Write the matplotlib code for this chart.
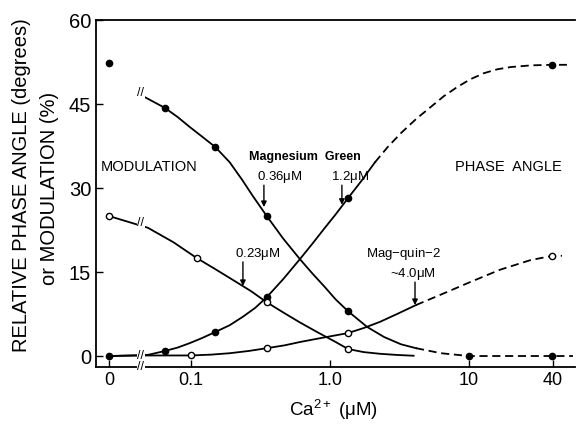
import numpy as np
import matplotlib
matplotlib.use('Agg')
import matplotlib.pyplot as plt

plt.rcParams['font.family'] = ['Liberation Sans', 'DejaVu Sans']
plt.rcParams['mathtext.fontset'] = 'custom'
plt.rcParams['mathtext.rm'] = 'Liberation Sans'
plt.rcParams['mathtext.it'] = 'Liberation Sans'

# measured points (Ca in uM)
mg_phase_ca = [0, 0.065, 0.15, 0.351, 1.35, 39.8]
mg_phase = [0, 0.9, 4.3, 10.5, 28.2, 52.0]
mq_phase_ca = [0.1, 0.351, 1.35, 39.8]
mq_phase = [0.1, 1.4, 4.1, 17.9]
mg_mod_ca = [0, 0.065, 0.15, 0.351, 1.35, 10, 39.8]
mg_mod = [52.4, 44.3, 37.3, 25.0, 8.0, 0, 0]
mq_mod_ca = [0, 0.11, 0.351, 1.35]
mq_mod = [25.0, 17.5, 9.6, 1.25]

# fitted curves
mg_phase_line_ca = [0, 0.049, 0.065, 0.08, 0.098, 0.12, 0.15, 0.19, 0.236, 0.29, 0.351,
                    0.46, 0.608, 0.75, 0.92, 1.1, 1.35, 1.7, 2.11]
mg_phase_line = [0, 0.2, 0.9, 1.5, 2.3, 3.2, 4.3, 5.5, 7.0, 8.6, 10.5,
                 13.7, 17.3, 20.1, 22.9, 25.3, 28.2, 31.4, 34.6]
mg_phase_dash_ca = [2.11, 2.6, 3.24, 4.2, 5.33, 6.6, 8.2, 10.2, 12.8, 16.0, 20.0, 28.0, 39.8, 50.7]
mg_phase_dash = [34.6, 37.3, 39.8, 42.4, 44.5, 46.4, 48.0, 49.4, 50.5, 51.2, 51.6, 51.9, 52.0, 52.0]

mq_phase_line_ca = [0, 0.049, 0.1, 0.14, 0.19, 0.26, 0.351, 0.47, 0.608, 0.9, 1.35, 1.75, 2.29, 3.1, 4.16]
mq_phase_line = [0, 0.1, 0.1, 0.25, 0.5, 0.9, 1.4, 1.9, 2.5, 3.3, 4.1, 5.0, 6.1, 7.6, 9.1]
mq_phase_dash_ca = [4.16, 6.19, 10.2, 16.7, 27.5, 39.8, 46.7]
mq_phase_dash = [9.1, 10.9, 13.2, 15.4, 17.1, 17.9, 17.9]

mg_mod_line_ca = [0.046, 0.065, 0.08, 0.098, 0.12, 0.15, 0.19, 0.233, 0.28, 0.351, 0.46, 0.608,
                  0.75, 0.92, 1.1, 1.35, 1.85, 2.45, 3.24, 4.16]
mg_mod_line = [46.3, 44.3, 42.7, 40.9, 39.2, 37.3, 34.6, 31.5, 28.5, 25.0, 21.0, 17.3,
               14.7, 12.3, 10.1, 8.0, 5.2, 3.4, 2.1, 1.4]
mq_mod_line_ca = [0, 0.049, 0.075, 0.11, 0.15, 0.2, 0.27, 0.351, 0.46, 0.608, 0.82, 1.1, 1.35,
                  1.75, 2.29, 3.0, 4.0]
mq_mod_line = [25.0, 22.9, 20.3, 17.5, 15.5, 13.6, 11.6, 9.6, 7.8, 6.0, 4.2, 2.5, 1.25,
               0.7, 0.4, 0.2, 0.05]
mod_dash_ca = [4.16, 6.3, 10, 39.8, 56]
mod_dash = [1.4, 0.5, 0, 0, 0]

tick_ca = [0, 0.1, 1, 10, 40]
tick_labels = ['0', '0.1', '1.0', '10', '40']

ZERO_POS = -1.59   # where Ca = 0 sits on the log axis
BREAK_POS = -1.36


def xpos(c):
    c = np.asarray(c, dtype=float)
    return np.where(c > 0, np.log10(np.where(c > 0, c, 1)), ZERO_POS)


fig = plt.figure(figsize=(5.76, 4.26), dpi=100)
ax = fig.add_axes([96 / 576, 1 - 367 / 426, 479 / 576, 347 / 426])

lw = 1.3
dash = (0, (4.5, 2.6))
ax.plot(xpos(mg_phase_line_ca), mg_phase_line, 'k-', lw=lw)
ax.plot(xpos(mg_phase_dash_ca), mg_phase_dash, 'k', ls=dash, lw=lw)
ax.plot(xpos(mq_phase_line_ca), mq_phase_line, 'k-', lw=lw)
ax.plot(xpos(mq_phase_dash_ca), mq_phase_dash, 'k', ls=dash, lw=lw)
ax.plot(xpos(mg_mod_line_ca), mg_mod_line, 'k-', lw=lw)
ax.plot(xpos(mq_mod_line_ca), mq_mod_line, 'k-', lw=lw)
ax.plot(xpos(mod_dash_ca), mod_dash, 'k', ls=dash, lw=lw)

ax.plot(xpos(mg_phase_ca), mg_phase, 'ko', ms=4.5, ls='none', zorder=4)
ax.plot(xpos(mg_mod_ca), mg_mod, 'ko', ms=4.5, ls='none', zorder=4)
ax.plot(xpos(mq_phase_ca), mq_phase, 'o', mfc='white', mec='k', mew=1, ms=4.5, ls='none', zorder=4)
ax.plot(xpos(mq_mod_ca), mq_mod, 'o', mfc='white', mec='k', mew=1, ms=4.5, ls='none', zorder=4)

# axis break marks
for yb in [0, 23.8, 47.0, -1.96]:
    ax.text(BREAK_POS, yb, '//', ha='center', va='center', fontsize=9,
            bbox=dict(fc='white', ec='none', pad=0.1), zorder=5, clip_on=False)

ax.set_xlim(-1.683, 1.763)
ax.set_ylim(-1.96, 60)
ax.set_xticks(xpos(tick_ca))
ax.set_xticklabels(tick_labels, fontsize=13)
ax.set_yticks([0, 15, 30, 45, 60])
ax.tick_params(axis='y', labelsize=14.5)
ax.tick_params(direction='in', length=5, width=1, top=False, right=False)
ax.spines['right'].set_visible(False)
for s in ['left', 'bottom', 'top']:
    ax.spines[s].set_linewidth(1.3)

ax.text(-1.30, 33.75, 'MODULATION', ha='center', va='center', fontsize=10.5)
ax.text(1.281, 33.75, 'PHASE  ANGLE', ha='center', va='center', fontsize=10.5)
ax.text(-0.183, 35.5, 'Magnesium  Green', ha='center', va='center', fontsize=9, fontweight='bold')
ax.text(-0.36, 32.0, '0.36$\\mu$M', ha='center', va='center', fontsize=9.5)
ax.text(0.144, 32.0, '1.2$\\mu$M', ha='center', va='center', fontsize=9.5)
ax.text(-0.518, 18.2, '0.23$\\mu$M', ha='center', va='center', fontsize=9.5)
ax.text(0.532, 18.2, 'Mag$-$quin$-$2', ha='center', va='center', fontsize=9.5)
ax.text(0.597, 14.6, '~4.0$\\mu$M', ha='center', va='center', fontsize=9.5)

arrow = dict(arrowstyle='-|>', color='k', lw=1, mutation_scale=8, shrinkA=0, shrinkB=0)
ax.annotate('', xy=(-0.475, 26.6), xytext=(-0.475, 30.5), arrowprops=arrow)
ax.annotate('', xy=(0.086, 27.0), xytext=(0.086, 30.5), arrowprops=arrow)
ax.annotate('', xy=(-0.626, 12.5), xytext=(-0.626, 16.8), arrowprops=arrow)
ax.annotate('', xy=(0.612, 9.1), xytext=(0.612, 13.2), arrowprops=arrow)

fig.text(22 / 576, 0.566, 'RELATIVE PHASE ANGLE (degrees)', rotation=90,
         ha='center', va='center', fontsize=14.5)
fig.text(50 / 576, 0.558, 'or MODULATION (%)', rotation=90,
         ha='center', va='center', fontsize=14.5)
fig.text(333 / 576, 1 - 410 / 426, 'Ca$^{2+}$ ($\\mu$M)', ha='center', va='center', fontsize=13.5)

fig.savefig('out.png', dpi=100)
